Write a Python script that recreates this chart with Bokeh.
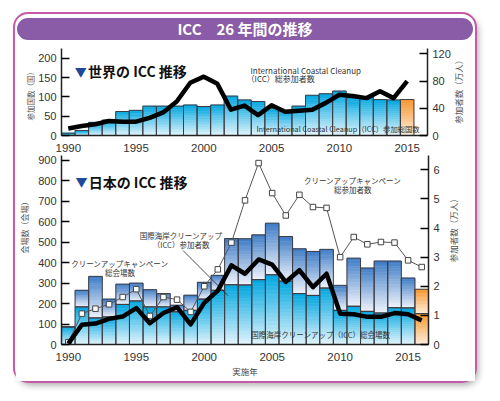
import math
from bokeh.plotting import figure
from bokeh.layouts import column, row
from bokeh.models import Range1d, LinearAxis, FixedTicker, Label, Div, Arrow, ColumnDataSource, Spacer
from bokeh.core.properties import value
from bokeh.embed import file_html
from bokeh.resources import INLINE

# ---------------- data ----------------
years_world = list(range(1990, 2016))
world_countries = [6, 13, 34, 40, 62, 65, 76, 76, 76, 79, 75, 79, 102, 92, 88,
                   71, 64, 76, 104, 108, 115, 98, 100, 93, 92, 93]
world_participants = [10.4, 14, 16.6, 21.4, 20.4, 20.4, 26, 34, 50, 77.6, 86.6, 76, 38,
                      44, 30, 44.5, 35, 36.5, 38, 48, 60, 58, 55, 65, 55, 80]

years_japan = list(range(1990, 2017))
campaign_venues = [86, 265, 333, 222, 295, 300, 268, 249, 192, 241, 304, 338, 518, 517,
                   536, 593, 528, 468, 455, 465, 289, 422, 374, 408, 408, 325, 270]
icc_venues = [86, 184, 130, 135, 196, 213, 184, 184, 160, 167, 222, 265, 292, 291,
              317, 341, 310, 249, 240, 276, 167, 187, 162, 154, 180, 179, 151]
campaign_participants = [0.08, 1.06, 1.23, 1.38, 1.63, 1.9, 0.98, 1.63, 1.54, 1.12, 2.0, 2.58,
                         3.5, 4.95, 6.23, 5.2, 4.43, 5.14, 4.72, 4.69, 3.0, 3.69, 3.44, 3.52,
                         3.5, 2.89, 2.66]
icc_participants = [0.03, 0.68, 0.72, 0.88, 0.96, 1.25, 0.73, 1.08, 1.28, 0.69, 1.43, 1.85,
                    2.72, 2.43, 2.92, 2.74, 2.15, 2.55, 1.97, 2.43, 1.06, 1.04, 0.95, 0.95,
                    1.08, 1.04, 0.83]

x_ticks = [1990, 1995, 2000, 2005, 2010, 2015]
world_left_ticks = [0, 50, 100, 150, 200]
world_right_ticks = [0, 40, 80, 120]
japan_left_ticks = [0, 100, 200, 300, 400, 500, 600, 700, 800, 900]
japan_right_ticks = [0, 1, 2, 3, 4, 5, 6]

# ---------------- styles ----------------
JP = "Noto Sans CJK JP"
NUM = "Liberation Sans"
CYAN = ((0, 166, 224), (228, 245, 252))
BLUE = ((62, 124, 198), (240, 244, 251))
ORANGE = ((246, 150, 45), (254, 238, 218))
OUTLINE = "#3c3c44"


def mix(top, bot, t):
    return "#%02x%02x%02x" % tuple(int(round(b + (a - b) * t)) for a, b in zip(top, bot))


def bands(xs, lows, highs, palettes, n=18):
    d = dict(x=[], bottom=[], top=[], color=[])
    for x, lo, hi, (ct, cb) in zip(xs, lows, highs, palettes):
        if hi <= lo:
            continue
        for k in range(n):
            d["x"].append(x)
            d["bottom"].append(lo + (hi - lo) * k / n)
            d["top"].append(lo + (hi - lo) * (k + 1) / n)
            d["color"].append(mix(ct, cb, (k + 0.5) / n))
    return ColumnDataSource(d)


def style_axes(p, left_ticks):
    p.xgrid.visible = False
    p.ygrid.visible = False
    xa = p.xaxis[0]
    xa.ticker = FixedTicker(ticks=x_ticks)
    xa.major_tick_line_color = None
    xa.minor_tick_line_color = None
    xa.axis_line_width = 1.5
    xa.axis_line_color = "#222222"
    xa.major_label_text_font = NUM
    xa.major_label_text_font_size = "11.5px"
    xa.major_label_text_color = "#333333"
    xa.major_label_standoff = 2
    ya = p.yaxis[0]
    ya.ticker = FixedTicker(ticks=left_ticks)
    ya.major_tick_in = 8
    ya.major_tick_out = 0
    ya.major_tick_line_width = 1.5
    ya.minor_tick_line_color = None
    ya.axis_line_width = 1.5
    ya.axis_line_color = "#222222"
    ya.major_label_text_font = NUM
    ya.major_label_text_font_size = "11px"
    ya.major_label_text_color = "#333333"
    ya.major_label_standoff = 5


def right_axis(p, name, ticks):
    ax = LinearAxis(y_range_name=name, ticker=FixedTicker(ticks=ticks))
    ax.major_tick_in = 8
    ax.major_tick_out = 0
    ax.major_tick_line_width = 1.5
    ax.minor_tick_line_color = None
    ax.axis_line_width = 1.5
    ax.axis_line_color = "#222222"
    ax.major_label_text_font = NUM
    ax.major_label_text_font_size = "11px"
    ax.major_label_text_color = "#333333"
    ax.major_label_standoff = 5
    p.add_layout(ax, "right")


def label(p, x, y, text, size="8px", align="left", color="#333333", bold=False, font=JP):
    p.add_layout(Label(x=x, y=y, text=text, text_font=font, text_font_size=size,
                       text_align=align, text_baseline="middle", text_color=color,
                       text_font_style="bold" if bold else "normal"))


def side_title(width, height, x, y, text, size):
    f = figure(width=width, height=height, x_range=Range1d(0, width), y_range=Range1d(0, height),
               output_backend="svg", toolbar_location=None, min_border=0,
               x_axis_type=None, y_axis_type=None, outline_line_color=None,
               background_fill_color="white", border_fill_color="white")
    f.grid.visible = False
    f.text(x=[x], y=[y], text=[text], angle=math.pi / 2, text_align="center",
           text_baseline="middle", text_font=value(JP), text_font_size=value(size),
           text_color="#555555")
    return f


# ---------------- header ----------------
header = Div(text="ICC\u300026 年間の推移", width=456, height=22, margin=(4, 2, 2, 2),
             styles={"background-color": "#8a5ba6", "color": "white", "border-radius": "11px",
                     "text-align": "center", "line-height": "22px", "font-size": "15px",
                     "font-family": JP, "font-weight": "bold"})

# ---------------- world chart ----------------
p1 = figure(width=418, height=112, x_range=Range1d(1989.5, 2016.5), y_range=Range1d(0, 225),
            output_backend="svg", toolbar_location=None, min_border_left=25, min_border_right=25,
            min_border_top=6, min_border_bottom=16, outline_line_color=None,
            background_fill_color="white", border_fill_color="white")
p1.extra_y_ranges = {"people": Range1d(0, 128)}
style_axes(p1, world_left_ticks)
right_axis(p1, "people", world_right_ticks)

pal1 = [ORANGE if y == years_world[-1] else CYAN for y in years_world]
src1 = bands(years_world, [0] * len(years_world), world_countries, pal1)
p1.vbar(x="x", bottom="bottom", top="top", width=1, fill_color="color", line_color="color",
        line_width=0.5, source=src1)
p1.vbar(x=years_world, top=world_countries, width=1, fill_color=None, line_color=OUTLINE,
        line_width=1)
p1.line(years_world, world_participants, y_range_name="people", line_width=4.5,
        line_color="black", line_join="round")

label(p1, 1990.48, 166, "▼", size="12px", color="#1b4a9c")
label(p1, 1991.46, 166, "世界の ICC 推移", size="14px", color="#111111", bold=True)
label(p1, 2003.44, 167.5, "International Coastal Cleanup")
label(p1, 2003.15, 147.5, "（ICC）総参加者数")
label(p1, 2003.88, 17.5, "International Coastal Cleanup（ICC）参加総国数", size="7.3px")

left1 = side_title(20, 112, 14.5, 53, "参加国数（国）", "7.5px")
right1 = side_title(22, 112, 4.8, 59, "参加者数（万人）", "8.5px")

# ---------------- japan chart ----------------
p2 = figure(width=410, height=227, x_range=Range1d(1989.5, 2016.5), y_range=Range1d(0, 924),
            output_backend="svg", toolbar_location=None, min_border_left=25, min_border_right=17,
            min_border_top=1, min_border_bottom=37, outline_line_color=None,
            background_fill_color="white", border_fill_color="white")
p2.extra_y_ranges = {"people": Range1d(0, 6.49)}
style_axes(p2, japan_left_ticks)
p2.xaxis[0].axis_label = "実施年"
p2.xaxis[0].axis_label_text_font = JP
p2.xaxis[0].axis_label_text_font_style = "normal"
p2.xaxis[0].axis_label_text_font_size = "8.5px"
p2.xaxis[0].axis_label_text_color = "#444444"
p2.xaxis[0].axis_label_standoff = 1
right_axis(p2, "people", japan_right_ticks)

last = years_japan[-1]
pal_low = [ORANGE if y == last else CYAN for y in years_japan]
pal_up = [ORANGE if y == last else BLUE for y in years_japan]
src_low = bands(years_japan, [0] * len(years_japan), icc_venues, pal_low)
src_up = bands(years_japan, icc_venues, campaign_venues, pal_up)
for s in (src_low, src_up):
    p2.vbar(x="x", bottom="bottom", top="top", width=1, fill_color="color",
            line_color="color", line_width=0.5, source=s)
p2.vbar(x=years_japan, bottom=icc_venues, top=campaign_venues, width=1, fill_color=None,
        line_color=OUTLINE, line_width=1)
p2.vbar(x=years_japan, top=icc_venues, width=1, fill_color=None, line_color=OUTLINE,
        line_width=1)

p2.line(years_japan, campaign_participants, y_range_name="people", line_width=1,
        line_color="#555555")
p2.scatter(years_japan, campaign_participants, y_range_name="people", marker="square",
           size=5.5, fill_color="white", line_color="#444444", line_width=1)
p2.line(years_japan, icc_participants, y_range_name="people", line_width=4.5,
        line_color="black", line_join="round")

label(p2, 1990.53, 796, "▼", size="12px", color="#1b4a9c")
label(p2, 1991.5, 796, "日本の ICC 推移", size="14px", color="#111111", bold=True)
label(p2, 2010.92, 801, "クリーンアップキャンペーン", align="center", size="7.5px")
label(p2, 2010.92, 757, "総参加者数", align="center", size="7.5px")
label(p2, 1998.3, 532, "国際海岸クリーンアップ", align="center", size="7.5px")
label(p2, 1998.3, 488, "（ICC）参加者数", align="center", size="7.5px")
label(p2, 1993.8, 394, "クリーンアップキャンペーン", align="center", size="7.5px")
label(p2, 1993.8, 352, "総会場数", align="center", size="7.5px")
label(p2, 2008.58, 49, "国際海岸クリーンアップ（ICC）総会場数", align="center", size="7.5px")
p2.add_layout(Arrow(end=None, x_start=1998.45, y_start=459, x_end=2001.75, y_end=239,
                    line_color="#222222", line_width=0.8))

left2 = side_title(20, 227, 9, 143, "会場数（会場）", "8px")
right2 = side_title(30, 227, 7, 139.5, "参加者数（万人）", "8.5px")

card = column(header, row(left1, p1, right1), row(left2, p2, right2),
              styles={"outline": "2px solid #c65aa6", "border-radius": "13px",
                      "box-shadow": "3px 4px 7px rgba(0,0,0,0.35)",
                      "background-color": "white"})
page = row(Spacer(width=15), column(Spacer(height=14), card))

open("out.html", "w").write(file_html(page, INLINE))
